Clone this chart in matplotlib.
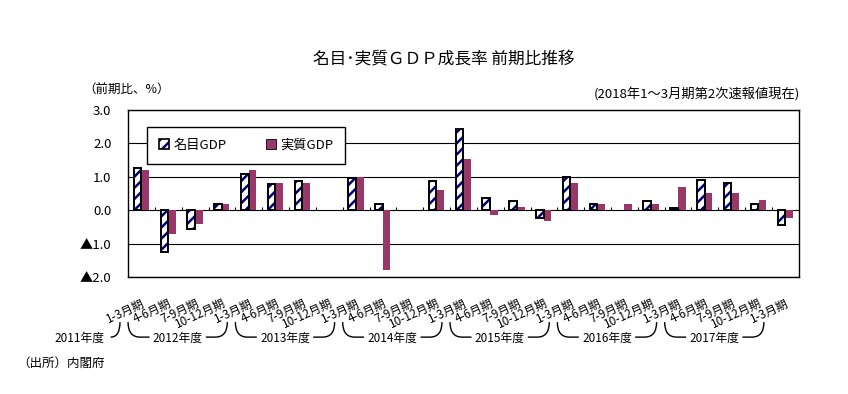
import numpy as np
import matplotlib
matplotlib.use("Agg")
import matplotlib.pyplot as plt
from matplotlib.patches import Patch, PathPatch
from matplotlib.path import Path

plt.rcParams['font.family'] = ['Noto Sans CJK JP', 'DejaVu Sans']
plt.rcParams['hatch.linewidth'] = 1.8

# === Data (前期比, %) ===
quarters = ['1-3月期',
            '4-6月期', '7-9月期', '10-12月期', '1-3月期',
            '4-6月期', '7-9月期', '10-12月期', '1-3月期',
            '4-6月期', '7-9月期', '10-12月期', '1-3月期',
            '4-6月期', '7-9月期', '10-12月期', '1-3月期',
            '4-6月期', '7-9月期', '10-12月期', '1-3月期',
            '4-6月期', '7-9月期', '10-12月期', '1-3月期']
fiscal_years = ['2011年度', '2012年度', '2013年度', '2014年度',
                '2015年度', '2016年度', '2017年度']
nominal = [1.27, -1.25, -0.55, 0.18, 1.08, 0.78, 0.87, 0.0, 0.96, 0.18, 0.0, 0.88,
           2.42, 0.36, 0.28, -0.23, 0.98, 0.17, 0.0, 0.28, 0.06, 0.90, 0.80, 0.17, -0.45]
real = [1.19, -0.72, -0.42, 0.17, 1.19, 0.80, 0.80, 0.0, 0.98, -1.80, 0.0, 0.61,
        1.52, -0.13, 0.08, -0.32, 0.82, 0.17, 0.17, 0.17, 0.69, 0.51, 0.51, 0.30, -0.22]
yticks = [3.0, 2.0, 1.0, 0.0, -1.0, -2.0]
ytick_labels = ['3.0', '2.0', '1.0', '0.0', '▲1.0', '▲2.0']

NAVY = '#000080'
MAROON = '#9A3769'

fig = plt.figure(figsize=(8.48, 3.94), dpi=100)
ax = fig.add_axes([0.151, 0.297, 0.791, 0.424])

x = np.arange(len(quarters))
w = 0.28

# nominal: white + navy stripes, then black outline on top (no outline for zero values)
outline_lw = [1.4 if v != 0 else 0 for v in nominal]
ax.bar(x - 0.15, nominal, w, color='white', edgecolor=NAVY, hatch='///', linewidth=0, zorder=3)
ax.bar(x - 0.15, nominal, w, fill=False, edgecolor='black', linewidth=outline_lw, zorder=4)
ax.bar(x + 0.14, real, w, color=MAROON, edgecolor='none', zorder=3)

# small ticks on the zero line between quarters
ax.vlines(x[:-1] + 0.5, 0, 0.08, color='black', lw=0.8, zorder=2)

ax.set_xlim(-0.5, len(quarters) - 0.5)
ax.set_ylim(-2, 3)
ax.set_yticks(yticks)
ax.set_yticklabels(ytick_labels, fontsize=9.5)
ax.tick_params(axis='y', length=0, pad=12)
ax.set_xticks(x)
ax.set_xticklabels(quarters, fontsize=8.5, rotation=25, ha='right', va='top',
                   rotation_mode='anchor')
ax.tick_params(axis='x', length=0, pad=14)
ax.set_axisbelow(True)
ax.yaxis.grid(True, color='black', lw=0.8)
for s in ax.spines.values():
    s.set_color('black')
    s.set_linewidth(1.0)

# legend
h_nom = (Patch(facecolor='white', edgecolor=NAVY, hatch='///', linewidth=0),
         Patch(fill=False, edgecolor='black', linewidth=1.2))
h_real = Patch(facecolor=MAROON, edgecolor='black', linewidth=0.6)
leg = ax.legend([h_nom, h_real], ['名目GDP', '実質GDP'], ncol=2, loc='upper left',
                bbox_to_anchor=(0.028, 0.898), fontsize=9.5, frameon=True, fancybox=False,
                framealpha=1, edgecolor='black', borderpad=0.9, handlelength=0.8,
                handleheight=0.8, handletextpad=0.3, columnspacing=3.0, borderaxespad=0)
leg.get_frame().set_linewidth(1.0)
leg.set_zorder(5)

# fiscal year brackets under the quarter labels
trans = ax.get_xaxis_transform()
top, bot, r, gap = -0.27, -0.36, 0.45, 1.05
for k, fy in enumerate(fiscal_years):
    last = 4 * k
    end = last - 0.8
    if k == 0:
        xc = -2.3
        verts = [(end - 0.35, bot), (end, bot), (end, top)]
        codes = [Path.MOVETO, Path.CURVE3, Path.CURVE3]
    else:
        start = (last - 3) - 1.5
        xc = (start + end) / 2
        verts = [(start, top), (start, bot), (start + r, bot), (xc - gap, bot),
                 (xc + gap, bot), (end - r, bot), (end, bot), (end, top)]
        codes = [Path.MOVETO, Path.CURVE3, Path.CURVE3, Path.LINETO,
                 Path.MOVETO, Path.LINETO, Path.CURVE3, Path.CURVE3]
    ax.add_patch(PathPatch(Path(verts, codes), fill=False, edgecolor='black', lw=1.0,
                           transform=trans, clip_on=False))
    ax.text(xc, -0.37, fy, transform=trans, ha='center', va='center', fontsize=8.5)

# titles and notes
fig.text(0.523, 0.848, '名目･実質ＧＤＰ成長率 前期比推移', ha='center', va='center', fontsize=12)
fig.text(0.098, 0.772, '（前期比、%）', ha='left', va='center', fontsize=9)
fig.text(0.943, 0.759, '(2018年1～3月期第2次速報値現在)', ha='right', va='center', fontsize=9.5)
fig.text(0.02, 0.079, '（出所）内閣府', ha='left', va='center', fontsize=9)

fig.savefig('out.png', dpi=100)
